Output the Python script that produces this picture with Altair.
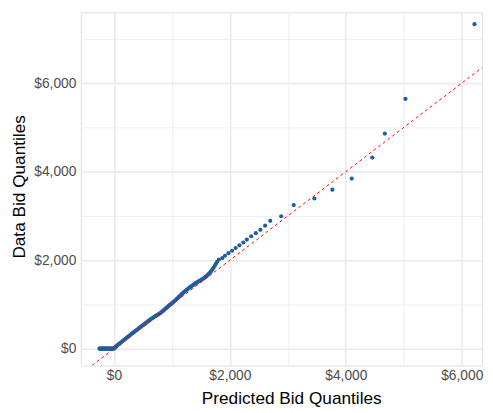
import altair as alt
import pandas as pd

# Flat section of the Q-Q plot (data quantile = 0)
flat_x = [-250, -240, -230, -220, -210, -200, -190, -180, -170, -160, -150, -140, -130,
          -120, -110, -100, -90, -80, -70, -60, -50, -40, -30, -20, -10, 0]
flat_y = [0] * len(flat_x)

# Dense rising section
dense_x = [15, 30, 45, 60, 75, 90, 105, 120, 140, 160, 180, 200, 220, 240, 260, 280, 300,
           320, 340, 360, 380, 400, 420, 440, 460, 480, 500, 520, 540, 560, 580, 600, 620,
           640, 660, 680, 700, 720, 740, 760, 780, 800, 820, 840, 860, 880, 900, 920, 940,
           960, 980, 1000, 1020, 1040, 1060, 1080, 1100, 1120, 1140, 1160, 1180, 1200, 1220,
           1240, 1260, 1280, 1300, 1320, 1340, 1360, 1380, 1400, 1420, 1440, 1460, 1480,
           1500, 1520, 1540, 1560, 1580, 1600, 1620, 1640, 1660, 1680, 1700, 1720, 1740,
           1760, 1780]
dense_y = [22, 40, 58, 75, 92, 108, 124, 140, 162, 183, 204, 225, 246, 266, 287, 308, 330,
           350, 370, 390, 410, 428, 448, 470, 492, 512, 530, 550, 570, 590, 610, 630, 650,
           668, 688, 705, 722, 740, 755, 770, 788, 805, 825, 848, 870, 892, 915, 940, 962,
           985, 1005, 1025, 1048, 1072, 1095, 1120, 1145, 1170, 1195, 1220, 1245, 1268, 1292,
           1315, 1335, 1355, 1375, 1395, 1414, 1433, 1452, 1470, 1488, 1505, 1520, 1535,
           1550, 1566, 1583, 1602, 1622, 1645, 1670, 1697, 1726, 1758, 1794, 1833, 1874,
           1918, 1962]

# Sparse upper tail
tail_x = [1810, 1870, 1915, 1975, 2038, 2100, 2165, 2232, 2292, 2368, 2448, 2526, 2608,
          2696, 2885, 3102, 3458, 3768, 4102, 4457, 4673, 5029, 6220]
tail_y = [2015, 2048, 2100, 2158, 2212, 2275, 2335, 2400, 2465, 2540, 2610, 2685, 2780,
          2889, 2992, 3244, 3393, 3593, 3844, 4318, 4860, 5644, 7333]

# Reference line y = x across the panel
ref_x = [-700, 6500]

x_domain = [-572, 6350]
y_domain = [-378, 7600]
x_ticks = [0, 1000, 2000, 3000, 4000, 5000, 6000]
y_ticks = [0, 1000, 2000, 3000, 4000, 5000, 6000, 7000]

pts = pd.DataFrame({
    "pred": flat_x + dense_x + tail_x,
    "data": flat_y + dense_y + tail_y,
})
ref = pd.DataFrame({"pred": ref_x, "data": ref_x})

FONT = "Liberation Sans"
major = "datum.value % 2000 === 0"

x_axis = alt.Axis(
    values=x_ticks, format="$,.0f",
    labelExpr=f"{major} ? datum.label : ''",
    grid=True, gridColor="#EBEBEB",
    gridWidth={"condition": {"test": major, "value": 1.6}, "value": 0.8},
    domain=False, ticks=False, labelPadding=3,
    labelFont=FONT, labelFontSize=14, labelColor="#4D4D4D",
    title="Predicted Bid Quantiles", titleFont=FONT, titleFontSize=17.5,
    titleFontWeight="normal", titleColor="#000000",
    titleX=214, titleY=39, titleBaseline="alphabetic", titleAlign="center",
)
y_axis = alt.Axis(
    values=y_ticks, format="$,.0f",
    labelExpr=f"{major} ? datum.label : ''",
    grid=True, gridColor="#EBEBEB",
    gridWidth={"condition": {"test": major, "value": 1.6}, "value": 0.8},
    domain=False, ticks=False, labelPadding=5,
    labelFont=FONT, labelFontSize=14, labelColor="#4D4D4D",
    title="Data Bid Quantiles", titleFont=FONT, titleFontSize=17.5,
    titleFontWeight="normal", titleColor="#000000",
    titleX=-57, titleY=177, titleBaseline="alphabetic", titleAlign="center",
    titleAngle=270,
)

xs = alt.Scale(domain=x_domain, nice=False, zero=False)
ys = alt.Scale(domain=y_domain, nice=False, zero=False)

points = alt.Chart(pts).mark_circle(size=18, color="#1F5FA0", opacity=1).encode(
    x=alt.X("pred:Q", scale=xs, axis=x_axis),
    y=alt.Y("data:Q", scale=ys, axis=y_axis),
)

line = alt.Chart(ref).mark_line(
    color="#FF0000", strokeWidth=1, strokeDash=[3, 3], clip=True
).encode(
    x=alt.X("pred:Q", scale=xs),
    y=alt.Y("data:Q", scale=ys),
)

chart = alt.layer(points, line).properties(
    width=408, height=359,
    autosize=alt.AutoSizeParams(type="none"),
    padding={"left": 74, "top": 1, "right": 3, "bottom": 46},
).configure_view(stroke=None).configure(background="white")

chart.save("out.html", embed_options={"renderer": "svg", "actions": False})
